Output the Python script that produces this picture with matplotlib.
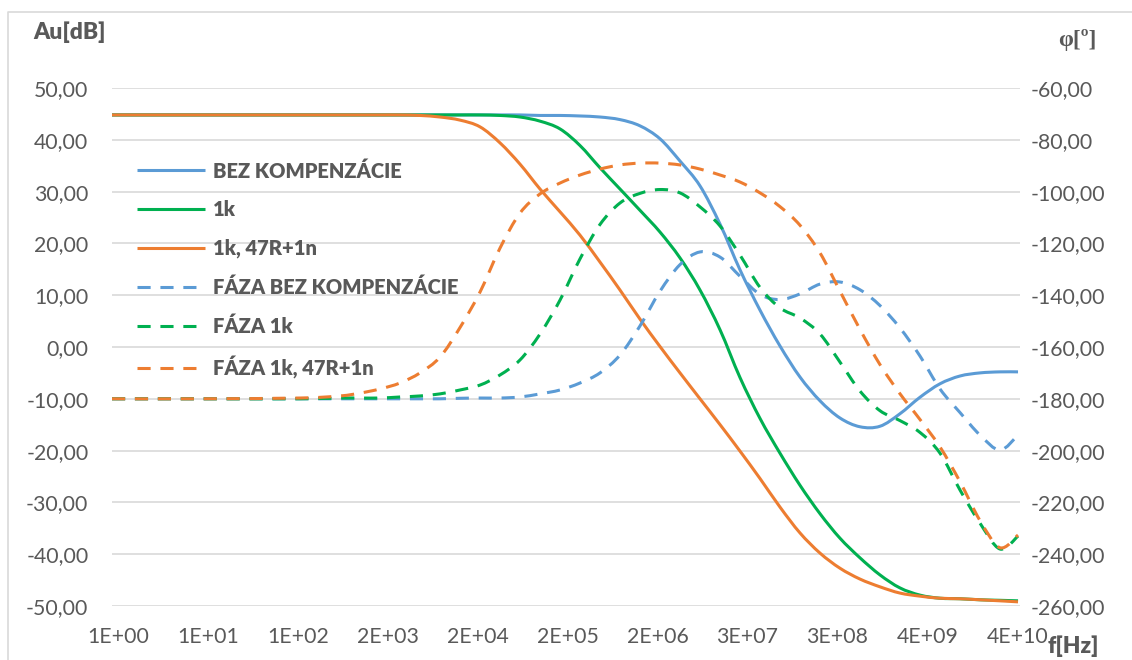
import matplotlib
matplotlib.use("Agg")
import numpy as np
import matplotlib.pyplot as plt
from matplotlib.lines import Line2D
from matplotlib.path import Path
from matplotlib.patches import PathPatch
from matplotlib.ticker import NullLocator

# ---------------- data ----------------
freq_hz = [1, 10.7, 157, 461, 789, 1352, 2313, 3963, 6789, 11620, 19910, 34120,
           58400, 1.0e5, 1.713e5, 2.93e5, 5.02e5, 8.6e5, 1.47e6, 2.52e6, 4.32e6,
           7.40e6, 1.27e7, 2.17e7, 3.72e7, 6.36e7, 1.09e8, 1.87e8, 3.19e8, 5.47e8,
           9.37e8, 1.60e9, 2.75e9, 4.71e9, 8.06e9, 1.38e10, 2.36e10, 3.84e10]

gain_bez = [44.8, 44.8, 44.8, 44.8, 44.8, 44.8, 44.8, 44.8, 44.8, 44.8, 44.8, 44.8,
            44.8, 44.7, 44.7, 44.6, 44.4, 43.9, 42.7, 40.2, 35.9, 31.1, 23.7, 14.9,
            7.1, 0.2, -5.8, -10.4, -13.7, -15.4, -15.3, -12.9, -9.7, -7.1, -5.6,
            -5.0, -4.8, -4.8]

gain_1k = [44.8, 44.8, 44.8, 44.8, 44.8, 44.8, 44.8, 44.8, 44.8, 44.8, 44.8, 44.7,
           44.4, 43.6, 42.1, 38.9, 34.6, 30.5, 26.4, 22.2, 17.2, 11.0, 3.3, -5.9,
           -13.8, -20.5, -26.7, -32.2, -36.9, -40.7, -44.0, -46.5, -47.9, -48.5,
           -48.6, -48.8, -48.9, -49.0]

gain_1k_47r = [44.8, 44.8, 44.8, 44.8, 44.8, 44.8, 44.8, 44.7, 44.4, 43.8, 42.5, 39.4,
               35.3, 30.5, 26.1, 21.6, 16.4, 11.0, 5.4, 0.1, -5.0, -10.0, -15.0, -20.1,
               -25.4, -30.9, -35.9, -39.8, -42.7, -44.8, -46.3, -47.5, -48.1, -48.5,
               -48.6, -48.8, -49.0, -49.2]

phase_bez = [-180, -180, -180, -180, -180, -180, -180, -180, -180, -179.8, -179.7,
             -179.7, -179.3, -178.1, -176.6, -173.9, -170.0, -163.1, -151.9, -138.5,
             -128.2, -123.3, -125.3, -132.7, -139.7, -141.7, -139.5, -135.7, -134.9,
             -137.9, -144.0, -152.6, -163.5, -176.2, -185.3, -194.0, -199.8, -194.0]

phase_1k = [-180, -180, -180, -179.7, -179.7, -179.7, -179.3, -178.9, -178.1, -176.6,
            -174.7, -170.8, -165.0, -155.0, -141.9, -126.0, -112.7, -104.4, -100.7,
            -99.2, -100.5, -105.9, -113.3, -124.5, -137.0, -144.9, -148.8, -155.0,
            -165.8, -177.0, -184.6, -188.4, -193.0, -201.0, -215.2, -228.0, -238.0,
            -233.0]

phase_1k_47r = [-180, -180, -179.7, -178.9, -177.8, -176.2, -173.9, -170.0, -163.9,
                -152.5, -138.8, -121.8, -108.3, -100.9, -96.7, -93.6, -91.3, -89.7,
                -89.0, -89.0, -89.7, -91.3, -93.6, -96.3, -100.5, -105.8, -113.0,
                -123.7, -138.4, -153.2, -166.8, -178.0, -188.0, -198.6, -212.0,
                -227.0, -237.5, -232.6]

series_labels = ["BEZ KOMPENZÁCIE", "1k", "1k, 47R+1n",
                 "FÁZA BEZ KOMPENZÁCIE", "FÁZA 1k", "FÁZA 1k, 47R+1n"]

x_limits_hz = [1, 4.05e10]
xtick_hz = [1.175, 13.2, 148, 1670, 1.87e4, 2.1e5, 2.36e6, 2.65e7, 2.98e8, 3.35e9, 3.76e10]
xtick_labels = ["1E+00", "1E+01", "1E+02", "2E+03", "2E+04", "2E+05", "2E+06",
                "3E+07", "3E+08", "4E+09", "4E+10"]
gain_ticks = [50, 40, 30, 20, 10, 0, -10, -20, -30, -40, -50]
phase_ticks = [-60, -80, -100, -120, -140, -160, -180, -200, -220, -240, -260]

# ---------------- style ----------------
BLUE, GREEN, ORANGE = "#5B9BD5", "#00B050", "#ED7D31"
TXT = "#595959"
GRID = "#D9D9D9"
LW = 2.2
DASH = (4.3, 3.2)
FONT = "Lato"


def smooth_path(xs, ys):
    """Smoothed line (like a spreadsheet 'smoothed line'): Bezier segments
    through the data points, control points computed in log-x space."""
    lx = np.log10(np.asarray(xs, float))
    y = np.asarray(ys, float)
    n = len(lx)
    verts = [(xs[0], y[0])]
    codes = [Path.MOVETO]
    for i in range(n - 1):
        i0 = max(i - 1, 0)
        i3 = min(i + 2, n - 1)
        c1x = lx[i] + (lx[i + 1] - lx[i0]) / 6.0
        c1y = y[i] + (y[i + 1] - y[i0]) / 6.0
        c2x = lx[i + 1] - (lx[i3] - lx[i]) / 6.0
        c2y = y[i + 1] - (y[i3] - y[i]) / 6.0
        verts += [(10 ** c1x, c1y), (10 ** c2x, c2y), (xs[i + 1], y[i + 1])]
        codes += [Path.CURVE4] * 3
    return Path(verts, codes)


W, H = 1132, 660
fig = plt.figure(figsize=(W / 100, H / 100), dpi=100)
ax = fig.add_axes([112 / W, 1 - 606 / H, 908 / W, 518 / H])
ax2 = ax.twinx()

for a in (ax, ax2):
    for s in a.spines.values():
        s.set_visible(False)
    a.set_xscale("log")
    a.set_xlim(*x_limits_hz)
    a.xaxis.set_minor_locator(NullLocator())
    a.yaxis.set_minor_locator(NullLocator())

ax.set_ylim(-50, 50)
ax2.set_ylim(-260, -60)

ax.set_yticks(gain_ticks)
ax.set_yticklabels([f"{v:.2f}".replace(".", ",") for v in gain_ticks])
ax2.set_yticks(phase_ticks)
ax2.set_yticklabels([f"{v:.2f}".replace(".", ",") for v in phase_ticks])
ax.set_xticks(xtick_hz)
ax.set_xticklabels(xtick_labels)
ax.xaxis.set_minor_locator(NullLocator())

ax.tick_params(axis="y", length=0, pad=17, labelsize=15.3, labelcolor=TXT)
ax2.tick_params(axis="y", length=0, pad=8, labelsize=15.3, labelcolor=TXT)
ax.tick_params(axis="x", length=0, pad=15, labelsize=15.3, labelcolor=TXT)
for lab in ax.get_yticklabels() + ax.get_xticklabels() + ax2.get_yticklabels():
    lab.set_fontfamily(FONT)

ax.yaxis.grid(True, color=GRID, lw=1.2)
ax.set_axisbelow(True)

specs = [
    (ax, gain_bez, BLUE, "-"),
    (ax, gain_1k, GREEN, "-"),
    (ax, gain_1k_47r, ORANGE, "-"),
    (ax2, phase_bez, BLUE, "--"),
    (ax2, phase_1k, GREEN, "--"),
    (ax2, phase_1k_47r, ORANGE, "--"),
]
handles = []
for a, vals, col, ls in specs:
    ls_spec = "solid" if ls == "-" else (0, DASH)
    patch = PathPatch(smooth_path(freq_hz, vals), fill=False, edgecolor=col,
                      lw=LW, linestyle=ls_spec, capstyle="butt", joinstyle="round")
    a.add_patch(patch)
    h = Line2D([], [], color=col, lw=LW)
    if ls == "--":
        h.set_dashes(DASH)
    h.set_dash_capstyle("butt")
    h.set_solid_capstyle("butt")
    handles.append(h)

leg = ax2.legend(handles, series_labels, loc="upper left",
                 bbox_to_anchor=(137 / W, 1 - 161 / H), bbox_transform=fig.transFigure,
                 frameon=False, borderpad=0, borderaxespad=0, handlelength=3.4,
                 handletextpad=0.38, labelspacing=0.97,
                 prop={"family": FONT, "weight": "heavy", "size": 14.5})
for t in leg.get_texts():
    t.set_color(TXT)

fig.text(33 / W, 1 - 32 / H, "Au[dB]", family=FONT, weight="heavy", size=16.5,
         color=TXT, ha="left", va="center")
fig.text(1058 / W, 1 - 40 / H, "φ[º]", family=["Liberation Serif", "DejaVu Serif"],
         weight="bold", size=17, color=TXT, ha="left", va="center")
fig.text(1048 / W, 1 - 646 / H, "f[Hz]", family=FONT, weight="heavy", size=16.5,
         color=TXT, ha="left", va="center")

fig.add_artist(Line2D([8 / W, 8 / W, 1.0], [0.0, 1 - 12 / H, 1 - 12 / H],
                      transform=fig.transFigure, color=GRID, lw=1.2))

fig.savefig("out.png", dpi=100)
